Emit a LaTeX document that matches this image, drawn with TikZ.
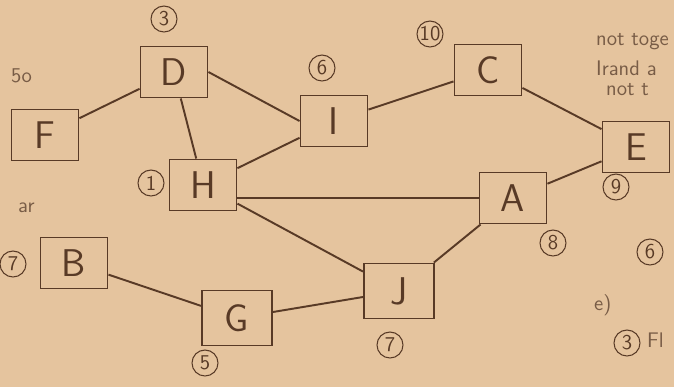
\documentclass[tikz,border=0pt]{standalone}
\usepackage{fontspec}
\definecolor{paper}{RGB}{229,196,158}
\definecolor{ink}{RGB}{88,58,38}
\definecolor{pencil}{RGB}{120,92,70}
\begin{document}
\begin{tikzpicture}[x=0.02cm, y=-0.02cm,
    box/.style={draw=ink, line width=1.1pt, minimum width=1.34cm, minimum height=1.02cm,
        inner sep=0pt, font=\sffamily\fontsize{22}{24}\selectfont, text=ink},
    order/.style={draw=ink, circle, line width=0.6pt, minimum size=0.52cm, inner sep=0pt,
        font=\sffamily\fontsize{12}{13}\selectfont, text=ink},
    link/.style={draw=ink, line width=1.1pt},
    scrawl/.style={text=pencil, font=\sffamily\fontsize{12}{13}\selectfont, anchor=west}]

    % papier
    \fill[paper] (0,0) rectangle (674,387);
    \useasboundingbox (0,0) rectangle (674,387);

    % knopen
    \node[box] (D) at (174,72) {D};
    \node[box] (F) at (45,135) {F};
    \node[box] (H) at (203,185) {H};
    \node[box] (I) at (334,121) {I};
    \node[box] (C) at (488,70) {C};
    \node[box] (E) at (636,147) {E};
    \node[box] (A) at (513,198) {A};
    \node[box] (B) at (74,263) {B};
    \node[box, minimum width=1.4cm, minimum height=1.1cm] (G) at (237,318) {G};
    \node[box, minimum width=1.4cm, minimum height=1.1cm] (J) at (399,291) {J};

    % volgorde
    \node[order] (nD) at (164,19) {3};
    \node[order] (nH) at (151,183) {1};
    \node[order] (nI) at (322,68) {6};
    \node[order] (nC) at (430,34) {10};
    \node[order] (nE) at (616,187) {9};
    \node[order] (nA) at (553,243) {8};
    \node[order] (nB) at (13,264) {7};
    \node[order] (nG) at (205,363) {5};
    \node[order] (nJ) at (390,345) {7};
    \node[order] (n6) at (650,252) {6};

    % verbindingen
    \draw[link] (F) -- (D);
    \draw[link] (D) -- (H);
    \draw[link] (D.east) -- (I.west);
    \draw[link] (H) -- (I);
    \draw[link] (I) -- (C);
    \draw[link] (C) -- (E);
    \draw[link] (E) -- (A);
    \draw[link] (H.east |- A.west) -- (A.west);
    \draw[link] (H) -- (J);
    \draw[link] (A) -- (J);
    \draw[link] (J) -- (G);
    \draw[link] (G) -- (B);

    % krabbels in de marge
    \node[scrawl] (s1) at (590,42) {not toge};
    \node[scrawl] (s2) at (590,68) {Irand a};
    \node[scrawl] (s3) at (600,90) {not t};
    \node[scrawl] (s4) at (5,76) {5o};
    \node[scrawl] (s5) at (12,208) {ar};
    \node[scrawl] (s6) at (588,305) {e)};
    \node[order] (n3) at (627,343) {3};
    \node[scrawl] (s7) at (641,340) {Fl};
\end{tikzpicture}
\end{document}
